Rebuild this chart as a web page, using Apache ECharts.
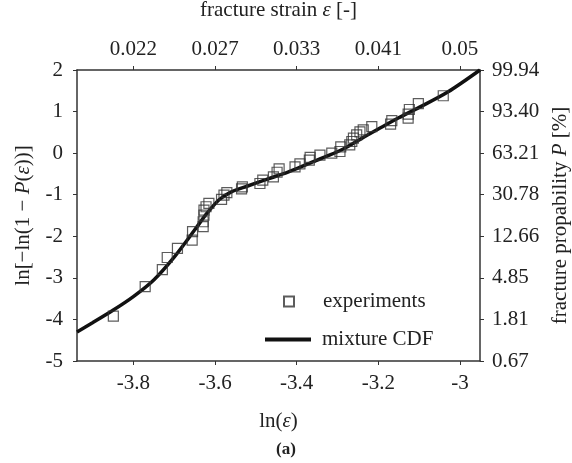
<!DOCTYPE html>
<html>
<head>
<meta charset="utf-8">
<script src="https://cdn.jsdelivr.net/npm/echarts@6/dist/echarts.min.js"></script>
<style>
  html, body { margin: 0; padding: 0; background: #fff; }
  #chart { width: 572px; height: 463px; }
</style>
</head>
<body>
<div id="chart"></div>
<script>
// bottom axis ticks, ln(strain)
const xTicks = [-3.8, -3.6, -3.4, -3.2, -3];
// top axis labels (strain = exp of the bottom tick)
const topLabels = ['0.022', '0.027', '0.033', '0.041', '0.05'];
// right axis labels, fracture probability in % for y = -5 ... 2
const probLabels = ['0.67', '1.81', '4.85', '12.66', '30.78', '63.21', '93.40', '99.94'];

// experiments [ln(eps), ln(-ln(1-P))]
const experiments = [
  [-3.849, -3.92], [-3.771, -3.21], [-3.729, -2.80], [-3.717, -2.51], [-3.692, -2.29],
  [-3.656, -2.09], [-3.655, -1.89], [-3.629, -1.77], [-3.629, -1.65], [-3.627, -1.49],
  [-3.627, -1.37], [-3.622, -1.29], [-3.615, -1.21], [-3.584, -1.11], [-3.578, -1.01],
  [-3.571, -0.95], [-3.535, -0.86], [-3.533, -0.81], [-3.490, -0.73], [-3.483, -0.65],
  [-3.457, -0.57], [-3.448, -0.46], [-3.443, -0.38], [-3.404, -0.33], [-3.392, -0.26],
  [-3.369, -0.17], [-3.367, -0.10], [-3.343, -0.05], [-3.314, 0.00], [-3.294, 0.04],
  [-3.292, 0.15], [-3.270, 0.20], [-3.265, 0.28], [-3.261, 0.36], [-3.253, 0.44],
  [-3.245, 0.51], [-3.237, 0.56], [-3.216, 0.64], [-3.170, 0.70], [-3.167, 0.78],
  [-3.127, 0.84], [-3.127, 0.94], [-3.124, 1.05], [-3.102, 1.19], [-3.041, 1.38]
];

// mixture CDF curve
const mixtureCdf = [
  [-3.938, -4.30], [-3.90, -4.08], [-3.85, -3.78], [-3.80, -3.45], [-3.75, -3.05],
  [-3.70, -2.50], [-3.65, -1.85], [-3.62, -1.45], [-3.59, -1.12], [-3.56, -0.93],
  [-3.52, -0.79], [-3.47, -0.62], [-3.42, -0.45], [-3.37, -0.25], [-3.32, -0.05],
  [-3.28, 0.13], [-3.24, 0.36], [-3.20, 0.58], [-3.15, 0.85], [-3.10, 1.10],
  [-3.03, 1.47], [-2.951, 2.0]
];

const font = 'Liberation Serif';
const tc = '#222';
const fs = 21;

const nameRich = {
  n: { fontFamily: font, fontSize: fs, color: tc },
  i: { fontFamily: font, fontSize: fs, color: tc, fontStyle: 'italic' }
};

const chart = echarts.init(document.getElementById('chart'));
chart.setOption({
  animation: false,
  textStyle: { fontFamily: font },
  title: {
    text: '(a)',
    left: 'center',
    top: 436,
    textStyle: { fontFamily: font, fontSize: 17, fontWeight: 'bold', color: tc }
  },
  grid: { left: 77, right: 92, top: 70, bottom: 102, outerBoundsMode: 'none' },
  legend: [
    {
      data: ['experiments'],
      left: 283, top: 291, padding: 0,
      itemWidth: 10, itemHeight: 10,
      textStyle: { fontFamily: font, fontSize: fs, color: tc, padding: [0, 0, 0, 24] }
    },
    {
      data: ['mixture CDF'],
      left: 265, top: 329, padding: 0,
      itemWidth: 46, itemHeight: 4,
      icon: 'rect',
      itemStyle: { color: '#111' },
      textStyle: { fontFamily: font, fontSize: fs, color: tc, padding: [0, 0, 0, 6] }
    }
  ],
  xAxis: [
    {
      type: 'value', position: 'bottom',
      min: -3.938, max: -2.951,
      name: '{n|ln(}{i|ε}{n|)}',
      nameLocation: 'middle', nameGap: 50,
      nameTextStyle: { rich: nameRich },
      axisLine: { onZero: false, lineStyle: { color: '#333', width: 1.5 } },
      axisTick: { length: 4, customValues: xTicks, lineStyle: { color: '#333' } },
      axisLabel: { customValues: xTicks, fontFamily: font, fontSize: fs, color: tc, margin: 12 },
      splitLine: { show: false }
    },
    {
      type: 'value', position: 'top',
      min: -3.938, max: -2.951,
      name: '{n|fracture strain }{i|ε}{n| [-]}',
      nameLocation: 'middle', nameGap: 49,
      nameTextStyle: { rich: nameRich },
      axisLine: { onZero: false, lineStyle: { color: '#333', width: 1.5 } },
      axisTick: { length: 4, customValues: xTicks, lineStyle: { color: '#333' } },
      axisLabel: {
        customValues: xTicks, fontFamily: font, fontSize: fs, color: tc, margin: 10,
        formatter: v => topLabels[xTicks.findIndex(t => Math.abs(t - v) < 1e-6)]
      },
      splitLine: { show: false }
    }
  ],
  yAxis: [
    {
      type: 'value', position: 'left',
      min: -5, max: 2, interval: 1,
      name: '{n|ln[−ln(1 − }{i|P}{n|(}{i|ε}{n|))]}',
      nameLocation: 'middle', nameGap: 43, nameRotate: 90,
      nameTextStyle: { rich: nameRich },
      axisLine: { onZero: false, lineStyle: { color: '#333', width: 1.5 } },
      axisTick: { length: 4, lineStyle: { color: '#333' } },
      axisLabel: { fontFamily: font, fontSize: fs, color: tc, margin: 14 },
      splitLine: { show: false }
    },
    {
      type: 'value', position: 'right',
      min: -5, max: 2, interval: 1,
      name: '{n|fracture propability }{i|P}{n| [%]}',
      nameLocation: 'middle', nameGap: 64, nameRotate: 90,
      nameTextStyle: { rich: nameRich },
      axisLine: { onZero: false, lineStyle: { color: '#333', width: 1.5 } },
      axisTick: { length: 4, lineStyle: { color: '#333' } },
      axisLabel: {
        fontFamily: font, fontSize: fs, color: tc, margin: 12,
        formatter: v => probLabels[Math.round(v) + 5]
      },
      splitLine: { show: false }
    }
  ],
  series: [
    {
      name: 'mixture CDF',
      type: 'line',
      data: mixtureCdf,
      smooth: 0.3,
      showSymbol: false,
      lineStyle: { color: '#111', width: 3.5 },
      itemStyle: { color: '#111' },
      z: 2
    },
    {
      name: 'experiments',
      type: 'scatter',
      data: experiments,
      symbol: 'rect',
      symbolSize: 10,
      itemStyle: { color: 'rgba(0,0,0,0)', borderColor: '#333', borderWidth: 1.2 },
      z: 3
    }
  ]
});
</script>
</body>
</html>
